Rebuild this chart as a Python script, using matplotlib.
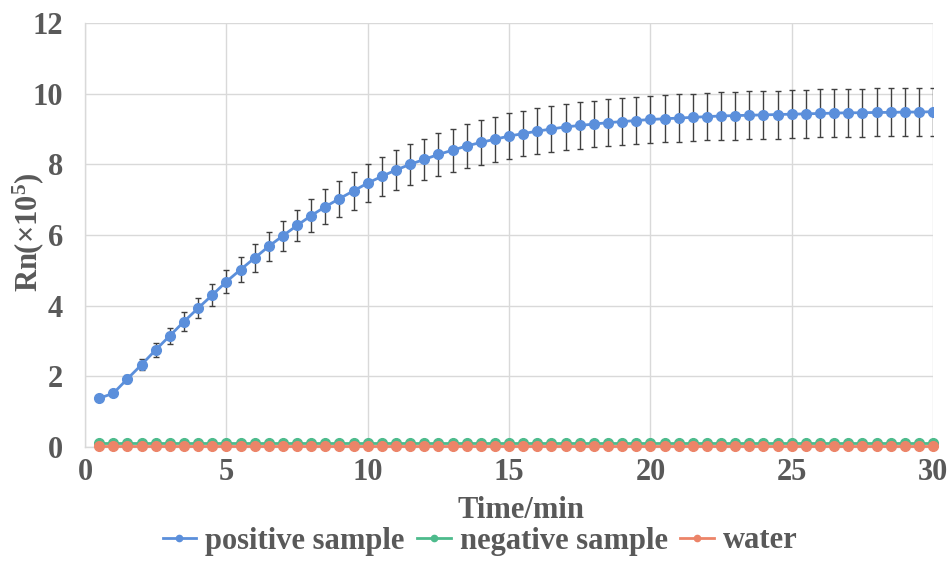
import matplotlib
matplotlib.use("Agg")
import matplotlib.pyplot as plt
from matplotlib.lines import Line2D

plt.rcParams['font.family'] = ['Liberation Serif', 'DejaVu Serif']
plt.rcParams['font.weight'] = 'bold'
plt.rcParams['mathtext.fontset'] = 'custom'
plt.rcParams['mathtext.rm'] = 'Liberation Serif:bold'
plt.rcParams['mathtext.bf'] = 'Liberation Serif:bold'
plt.rcParams['mathtext.it'] = 'Liberation Serif:bold'

time = [0.5, 1.0, 1.5, 2.0, 2.5, 3.0, 3.5, 4.0, 4.5, 5.0,
        5.5, 6.0, 6.5, 7.0, 7.5, 8.0, 8.5, 9.0, 9.5, 10.0,
        10.5, 11.0, 11.5, 12.0, 12.5, 13.0, 13.5, 14.0, 14.5, 15.0,
        15.5, 16.0, 16.5, 17.0, 17.5, 18.0, 18.5, 19.0, 19.5, 20.0,
        20.5, 21.0, 21.5, 22.0, 22.5, 23.0, 23.5, 24.0, 24.5, 25.0,
        25.5, 26.0, 26.5, 27.0, 27.5, 28.0, 28.5, 29.0, 29.5, 30.0]

positive = [1.38, 1.52, 1.93, 2.33, 2.75, 3.15, 3.55, 3.93, 4.30, 4.68,
            5.02, 5.35, 5.68, 5.98, 6.27, 6.55, 6.80, 7.03, 7.25, 7.47,
            7.66, 7.84, 8.00, 8.14, 8.28, 8.40, 8.52, 8.62, 8.71, 8.80,
            8.87, 8.94, 9.00, 9.06, 9.10, 9.14, 9.18, 9.21, 9.24, 9.27,
            9.29, 9.31, 9.33, 9.35, 9.37, 9.38, 9.39, 9.40, 9.41, 9.42,
            9.43, 9.44, 9.45, 9.46, 9.46, 9.47, 9.47, 9.48, 9.48, 9.49]

positive_err = [0.04, 0.07, 0.12, 0.16, 0.20, 0.23, 0.26, 0.28, 0.31, 0.33,
                0.36, 0.39, 0.41, 0.43, 0.45, 0.47, 0.49, 0.51, 0.53, 0.54,
                0.56, 0.57, 0.58, 0.59, 0.60, 0.61, 0.62, 0.63, 0.63, 0.64,
                0.64, 0.65, 0.65, 0.65, 0.66, 0.66, 0.66, 0.67, 0.67, 0.67,
                0.67, 0.67, 0.67, 0.67, 0.68, 0.68, 0.68, 0.68, 0.68, 0.68,
                0.68, 0.68, 0.68, 0.68, 0.68, 0.68, 0.68, 0.68, 0.68, 0.68]

negative = [0.12, 0.12, 0.12, 0.12, 0.12, 0.12, 0.12, 0.12, 0.12, 0.12,
            0.12, 0.12, 0.12, 0.12, 0.12, 0.12, 0.12, 0.12, 0.12, 0.12,
            0.12, 0.12, 0.12, 0.12, 0.12, 0.12, 0.12, 0.12, 0.12, 0.12,
            0.12, 0.12, 0.12, 0.12, 0.12, 0.12, 0.12, 0.12, 0.12, 0.12,
            0.12, 0.12, 0.12, 0.12, 0.12, 0.12, 0.12, 0.12, 0.12, 0.12,
            0.12, 0.12, 0.12, 0.12, 0.12, 0.12, 0.12, 0.12, 0.12, 0.12]

water = [0.03, 0.03, 0.03, 0.03, 0.03, 0.03, 0.03, 0.03, 0.03, 0.03,
         0.03, 0.03, 0.03, 0.03, 0.03, 0.03, 0.03, 0.03, 0.03, 0.03,
         0.03, 0.03, 0.03, 0.03, 0.03, 0.03, 0.03, 0.03, 0.03, 0.03,
         0.03, 0.03, 0.03, 0.03, 0.03, 0.03, 0.03, 0.03, 0.03, 0.03,
         0.03, 0.03, 0.03, 0.03, 0.03, 0.03, 0.03, 0.03, 0.03, 0.03,
         0.03, 0.03, 0.03, 0.03, 0.03, 0.03, 0.03, 0.03, 0.03, 0.03]

series_names = ["positive sample", "negative sample", "water"]
x_ticks = [0, 5, 10, 15, 20, 25, 30]
y_ticks = [0, 2, 4, 6, 8, 10, 12]

c_pos = '#5B8FDB'
c_neg = '#4DBB8C'
c_wat = '#EC8468'
txt = '#595959'
grid_c = '#D9D9D9'
FS = 22

fig = plt.figure(figsize=(9.49, 5.64), dpi=100)
ax = fig.add_axes([0.0896, 0.2074, 0.8936, 0.7518])

ax.plot(time, negative, color=c_neg, lw=2.0, marker='o', ms=7, zorder=3, clip_on=False)
ax.plot(time, water, color=c_wat, lw=2.0, marker='o', ms=7, zorder=3.5, clip_on=False)
ax.errorbar(time, positive, yerr=positive_err, color=c_pos, lw=2.0, marker='o', ms=7,
            ecolor='#404040', elinewidth=1.0, capsize=2.5, capthick=1.0, zorder=4)

ax.set_xlim(0, 30)
ax.set_ylim(0, 12)
ax.set_xticks(x_ticks)
ax.set_yticks(y_ticks)
ax.grid(True, color=grid_c, lw=1.0)
ax.set_axisbelow(True)
for s in ['top', 'right']:
    ax.spines[s].set_visible(False)
for s in ['left', 'bottom']:
    ax.spines[s].set_color(grid_c)
    ax.spines[s].set_linewidth(1.0)
ax.tick_params(axis='both', length=0, labelsize=FS, labelcolor=txt)
ax.tick_params(axis='y', pad=16)
ax.tick_params(axis='x', pad=8)
for lab in ax.get_xticklabels() + ax.get_yticklabels():
    lab.set_fontweight('bold')

fig.text(521 / 949, 1 - 510 / 564, 'Time/min', fontsize=FS, fontweight='bold',
         color=txt, ha='center', va='center')
fig.text(28 / 949, 1 - 232 / 564, r'Rn(×10$^{5}$)', fontsize=FS, fontweight='bold',
         color=txt, ha='center', va='center', rotation=90)

proxies = [Line2D([], [], color=c, lw=2.0, marker='o', ms=4.5)
           for c in (c_pos, c_neg, c_wat)]
leg = fig.legend(proxies, series_names,
                 loc='center', bbox_to_anchor=(480 / 949, 1 - 541 / 564), ncol=3, frameon=False,
                 prop={'family': 'Liberation Serif', 'weight': 'bold', 'size': FS},
                 handlelength=1.1, handletextpad=0.3, columnspacing=0.4)
for t in leg.get_texts():
    t.set_color(txt)

fig.savefig('out.png', dpi=100, facecolor='white')
